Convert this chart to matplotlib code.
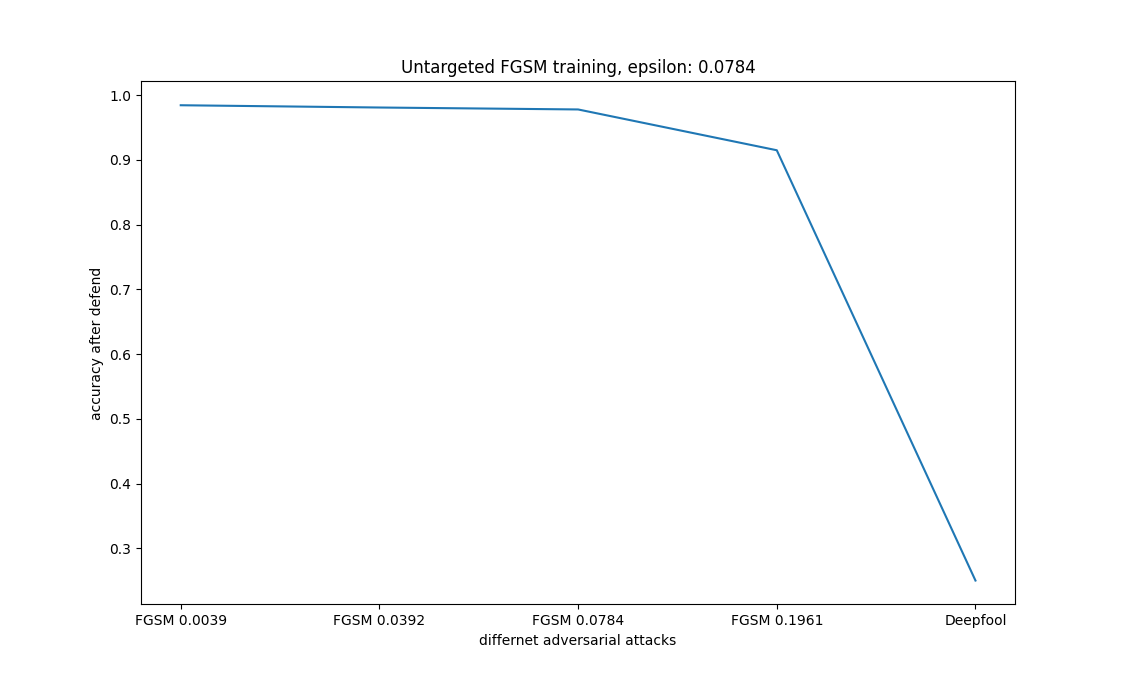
import matplotlib
matplotlib.use('Agg')
import matplotlib.pyplot as plt

attacks = ['FGSM 0.0039', 'FGSM 0.0392', 'FGSM 0.0784', 'FGSM 0.1961', 'Deepfool']
accuracy = [0.9845, 0.981, 0.978, 0.915, 0.2505]

fig = plt.figure(figsize=(11.28, 6.79), dpi=100)
plt.plot(attacks, accuracy)
plt.title('Untargeted FGSM training, epsilon: 0.0784')
plt.xlabel('differnet adversarial attacks')
plt.ylabel('accuracy after defend')
plt.savefig('out.png')
